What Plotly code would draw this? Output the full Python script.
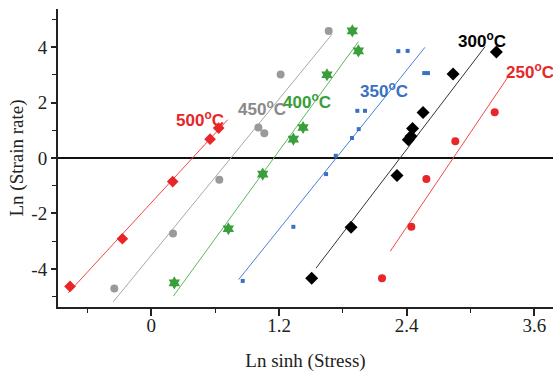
import plotly.graph_objects as go

# ---- data ----
t500_x = [-0.764, -0.272, 0.201, 0.552, 0.633]
t500_y = [-4.63, -2.91, -0.85, 0.68, 1.08]
t450_x = [-0.348, 0.204, 0.639, 1.006, 1.062, 1.215, 1.667]
t450_y = [-4.70, -2.72, -0.78, 1.10, 0.89, 3.01, 4.58]
t400_x = [0.216, 0.724, 1.047, 1.335, 1.426, 1.651, 1.889, 1.946]
t400_y = [-4.50, -2.55, -0.58, 0.68, 1.10, 3.00, 4.58, 3.86]
t350_x = [0.859, 1.335, 1.642, 1.733, 1.886, 1.949, 1.936, 2.008, 2.565, 2.600, 2.321, 2.409]
t350_y = [-4.43, -2.48, -0.58, 0.08, 0.72, 1.04, 1.70, 1.70, 3.06, 3.06, 3.85, 3.86]
t300_x = [1.507, 1.877, 2.309, 2.415, 2.440, 2.455, 2.554, 2.836, 3.243]
t300_y = [-4.33, -2.50, -0.63, 0.66, 0.78, 1.06, 1.64, 3.03, 3.82]
t250_x = [2.168, 2.444, 2.585, 2.857, 3.227]
t250_y = [-4.33, -2.48, -0.76, 0.60, 1.65]

# fitted lines (start, end)
fit500_x = [-0.78, 0.718]; fit500_y = [-4.86, 1.38]
fit450_x = [-0.357, 1.698]; fit450_y = [-5.18, 4.46]
fit400_x = [0.207, 1.946]; fit400_y = [-4.98, 4.19]
fit350_x = [0.821, 2.572]; fit350_y = [-4.38, 3.99]
fit300_x = [1.548, 3.136]; fit300_y = [-3.97, 4.01]
fit250_x = [2.246, 3.35]; fit250_y = [-3.36, 2.91]

labels = ["500", "450", "400", "350", "300", "250"]
label_x = [0.453, 1.036, 1.463, 2.184, 3.108, 3.560]
label_y = [1.41, 1.81, 2.04, 2.46, 4.27, 3.15]

x_ticks = [0, 1.2, 2.4, 3.6]
y_ticks = [-4, -2, 0, 2, 4]

RED = "#e8262a"
GRAY = "#9a9a9a"
GREEN = "#3a9e3a"
BLUE = "#3a70c4"
BLACK = "#000000"

fig = go.Figure()

def add_line(xs, ys, color):
    fig.add_trace(go.Scatter(x=xs, y=ys, mode="lines",
                             line=dict(color=color, width=1), showlegend=False,
                             hoverinfo="skip"))

def add_pts(xs, ys, color, symbol, size):
    fig.add_trace(go.Scatter(x=xs, y=ys, mode="markers",
                             marker=dict(color=color, symbol=symbol, size=size,
                                         line=dict(width=0)),
                             showlegend=False))

add_line(fit500_x, fit500_y, "#f04848")
add_line(fit450_x, fit450_y, "#a8a8a8")
add_line(fit400_x, fit400_y, "#5cb85c")
add_line(fit350_x, fit350_y, "#4a80d4")
add_line(fit300_x, fit300_y, "#333333")
add_line(fit250_x, fit250_y, "#f04848")

add_pts(t500_x, t500_y, RED, "diamond", 9)
add_pts(t450_x, t450_y, GRAY, "circle", 8)
add_pts(t400_x, t400_y, GREEN, "hexagram", 10)
add_pts(t350_x, t350_y, BLUE, "square", 4)
add_pts(t300_x, t300_y, BLACK, "diamond", 10)
add_pts(t250_x, t250_y, RED, "circle", 8)

label_colors = [RED, "#8a8a8a", GREEN, BLUE, BLACK, RED]
for lab, lx, ly, c in zip(labels, label_x, label_y, label_colors):
    fig.add_annotation(x=lx, y=ly, text=f"<b>{lab}<sup>o</sup>C</b>", showarrow=False,
                       font=dict(family="Liberation Sans, Arial", size=17, color=c),
                       xanchor="center", yanchor="middle")

axis_font = dict(family="Liberation Serif, Times New Roman", size=19, color="#222")
fig.update_layout(
    width=553, height=372,
    margin=dict(l=58, r=0, t=9, b=65),
    paper_bgcolor="white", plot_bgcolor="white",
    xaxis=dict(range=[-0.877, 3.775], tickvals=x_ticks, ticktext=[str(v) for v in x_ticks],
               ticks="outside", ticklen=7, tickwidth=1.5, tickcolor="#222",
               minor=dict(ticks="outside", ticklen=4, tickwidth=1.2, tickcolor="#222", dtick=0.6, tick0=0),
               showline=True, linecolor="#222", linewidth=2, showgrid=False, zeroline=False,
               tickfont=axis_font, ticklabelstandoff=-7,
               title=dict(text="Ln sinh (Stress)", font=axis_font, standoff=20)),
    yaxis=dict(range=[-5.37, 5.37], tickvals=y_ticks, ticktext=[str(v) for v in y_ticks],
               ticks="outside", ticklen=5, tickwidth=1.5, tickcolor="#222",
               minor=dict(ticks="outside", ticklen=4, tickwidth=1.2, tickcolor="#222", dtick=1, tick0=0),
               showline=True, linecolor="#222", linewidth=2, showgrid=False,
               zeroline=True, zerolinecolor="#111", zerolinewidth=1.5,
               tickfont=axis_font,
               title=dict(text="Ln (Strain rate)", font=axis_font, standoff=3)),
)

fig.write_html("out.html")
